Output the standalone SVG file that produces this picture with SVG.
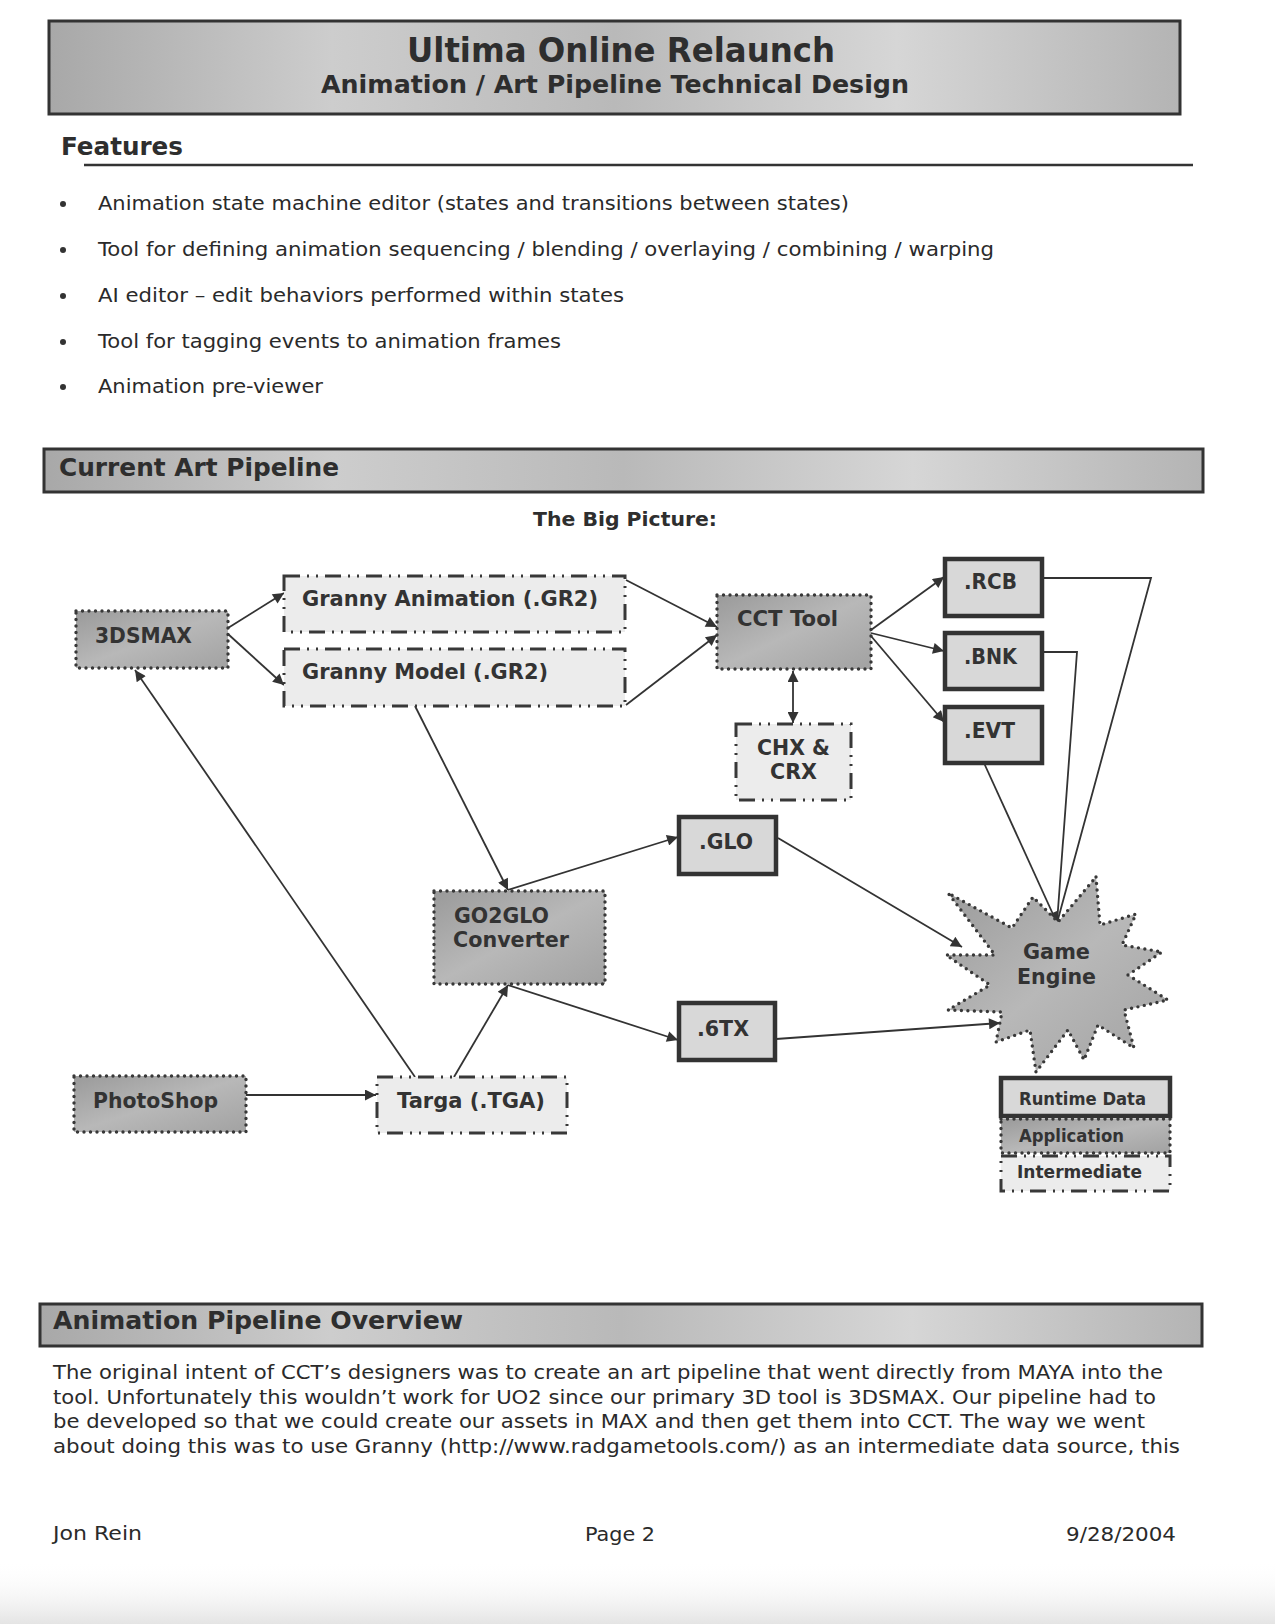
<svg xmlns="http://www.w3.org/2000/svg" width="1275" height="1624" viewBox="0 0 1275 1624">
<defs>
  <linearGradient id="band" x1="0" y1="0" x2="1" y2="0">
    <stop offset="0" stop-color="#a8a8a8"/>
    <stop offset="0.25" stop-color="#cdcdcd"/>
    <stop offset="0.5" stop-color="#b9b9b9"/>
    <stop offset="0.75" stop-color="#d6d6d6"/>
    <stop offset="1" stop-color="#b4b4b4"/>
  </linearGradient>
  <linearGradient id="dark" x1="0" y1="0" x2="1" y2="1">
    <stop offset="0" stop-color="#9a9a9a"/>
    <stop offset="0.5" stop-color="#b8b8b8"/>
    <stop offset="1" stop-color="#a2a2a2"/>
  </linearGradient>
  <linearGradient id="bottomscan" x1="0" y1="0" x2="0" y2="1">
    <stop offset="0" stop-color="#ffffff" stop-opacity="0"/>
    <stop offset="1" stop-color="#e4e4e4"/>
  </linearGradient>
  <marker id="ah" viewBox="0 0 10 10" refX="10" refY="5" markerWidth="15" markerHeight="11" markerUnits="userSpaceOnUse" orient="auto-start-reverse">
    <path d="M0,0 L10,5 L0,10 z" fill="#333"/>
  </marker>
  <style>
    .hd { font-family: "DejaVu Sans", Verdana, sans-serif; font-weight: bold; fill: #2e2e2e; }
    .body { font-family: "DejaVu Sans", Verdana, sans-serif; font-size: 19px; fill: #2a2a2a; }
    .lbl { font-family: "DejaVu Sans", Verdana, sans-serif; font-weight: bold; font-size: 21px; fill: #333; }
    .small { font-size: 17px; }
    .band { fill: url(#band); stroke: #333; stroke-width: 3; }
    .dot { fill: url(#dark); stroke: #383838; stroke-width: 3.4; stroke-dasharray: 0 6.5; stroke-linecap: round; }
    .dd { fill: #ececec; stroke: #383838; stroke-width: 3; stroke-dasharray: 16 7 2 7 2 7; }
    .solid { fill: #d8d8d8; stroke: #333; stroke-width: 4.5; }
    .conn { stroke: #333; stroke-width: 1.8; fill: none; }
  </style>
</defs>
<rect x="0" y="0" width="1275" height="1624" fill="#ffffff"/>
<rect x="0" y="1560" width="1275" height="64" fill="url(#bottomscan)"/>

<!-- Title -->
<g id="title">
  <rect class="band" x="49" y="21" width="1131" height="93"/>
  <text class="hd" x="407" y="62" font-size="34" textLength="428" lengthAdjust="spacingAndGlyphs">Ultima Online Relaunch</text>
  <text class="hd" x="321" y="93" font-size="24" textLength="588" lengthAdjust="spacingAndGlyphs">Animation / Art Pipeline Technical Design</text>
</g>

<!-- Features -->
<g id="features">
  <text class="hd" x="61" y="155" font-size="24" textLength="122" lengthAdjust="spacingAndGlyphs">Features</text>
  <line x1="84" y1="165" x2="1193" y2="165" stroke="#333" stroke-width="2.5"/>
  <circle cx="63" cy="204" r="3" fill="#333"/>
  <text class="body" x="98" y="210" textLength="751" lengthAdjust="spacingAndGlyphs">Animation state machine editor (states and transitions between states)</text>
  <circle cx="63" cy="250" r="3" fill="#333"/>
  <text class="body" x="98" y="256" textLength="896" lengthAdjust="spacingAndGlyphs">Tool for defining animation sequencing / blending / overlaying / combining / warping</text>
  <circle cx="63" cy="296" r="3" fill="#333"/>
  <text class="body" x="98" y="302" textLength="526" lengthAdjust="spacingAndGlyphs">AI editor – edit behaviors performed within states</text>
  <circle cx="63" cy="342" r="3" fill="#333"/>
  <text class="body" x="98" y="348" textLength="463" lengthAdjust="spacingAndGlyphs">Tool for tagging events to animation frames</text>
  <circle cx="63" cy="387" r="3" fill="#333"/>
  <text class="body" x="98" y="393" textLength="225" lengthAdjust="spacingAndGlyphs">Animation pre-viewer</text>
</g>

<!-- Current Art Pipeline banner -->
<g id="banner-current">
  <rect class="band" x="44" y="449" width="1159" height="43"/>
  <text class="hd" x="59" y="476" font-size="24" textLength="280" lengthAdjust="spacingAndGlyphs">Current Art Pipeline</text>
</g>
<text class="hd" x="533" y="526" font-size="19" textLength="184" lengthAdjust="spacingAndGlyphs">The Big Picture:</text>

<!-- Connectors -->
<g id="connectors">
  <line class="conn" x1="228" y1="628" x2="284" y2="593" marker-end="url(#ah)"/>
  <line class="conn" x1="228" y1="634" x2="284" y2="685" marker-end="url(#ah)"/>
  <line class="conn" x1="626" y1="580" x2="717" y2="627" marker-end="url(#ah)"/>
  <line class="conn" x1="626" y1="705" x2="717" y2="635" marker-end="url(#ah)"/>
  <line class="conn" x1="871" y1="630" x2="944" y2="577" marker-end="url(#ah)"/>
  <line class="conn" x1="871" y1="633" x2="944" y2="651" marker-end="url(#ah)"/>
  <line class="conn" x1="871" y1="636" x2="944" y2="722" marker-end="url(#ah)"/>
  <line class="conn" x1="793" y1="671" x2="793" y2="723" marker-start="url(#ah)" marker-end="url(#ah)"/>
  <line class="conn" x1="415" y1="706" x2="508" y2="890" marker-end="url(#ah)"/>
  <line class="conn" x1="508" y1="890" x2="678" y2="837" marker-end="url(#ah)"/>
  <line class="conn" x1="508" y1="985" x2="678" y2="1040" marker-end="url(#ah)"/>
  <line class="conn" x1="454" y1="1077" x2="508" y2="985" marker-end="url(#ah)"/>
  <line class="conn" x1="415" y1="1077" x2="135" y2="670" marker-end="url(#ah)"/>
  <line class="conn" x1="246" y1="1095" x2="376" y2="1095" marker-end="url(#ah)"/>
  <line class="conn" x1="778" y1="838" x2="962" y2="947" marker-end="url(#ah)"/>
  <line class="conn" x1="776" y1="1039" x2="1000" y2="1023" marker-end="url(#ah)"/>
  <polyline class="conn" points="1043,578 1151,578 1057,923"/>
  <polyline class="conn" points="1043,652 1077,652 1057,923"/>
  <line class="conn" x1="984" y1="763" x2="1057" y2="923" marker-end="url(#ah)"/>
</g>

<!-- Nodes -->
<g id="n-3dsmax">
  <rect class="dot" x="76" y="611" width="152" height="57"/>
  <text class="lbl" x="95" y="643" textLength="97" lengthAdjust="spacingAndGlyphs">3DSMAX</text>
</g>
<g id="n-granny-anim">
  <rect class="dd" x="284" y="576" width="341" height="56"/>
  <text class="lbl" x="302" y="606" textLength="296" lengthAdjust="spacingAndGlyphs">Granny Animation (.GR2)</text>
</g>
<g id="n-granny-model">
  <rect class="dd" x="284" y="649" width="341" height="57"/>
  <text class="lbl" x="302" y="679" textLength="246" lengthAdjust="spacingAndGlyphs">Granny Model (.GR2)</text>
</g>
<g id="n-cct">
  <rect class="dot" x="717" y="595" width="154" height="74"/>
  <text class="lbl" x="737" y="626" textLength="101" lengthAdjust="spacingAndGlyphs">CCT Tool</text>
</g>
<g id="n-chx">
  <rect class="dd" x="736" y="724" width="115" height="76"/>
  <text class="lbl" x="757" y="755" textLength="73" lengthAdjust="spacingAndGlyphs">CHX &amp;</text>
  <text class="lbl" x="770" y="779" textLength="47" lengthAdjust="spacingAndGlyphs">CRX</text>
</g>
<g id="n-rcb">
  <rect class="solid" x="945" y="559" width="97" height="57"/>
  <text class="lbl" x="964" y="589" textLength="53" lengthAdjust="spacingAndGlyphs">.RCB</text>
</g>
<g id="n-bnk">
  <rect class="solid" x="945" y="633" width="97" height="56"/>
  <text class="lbl" x="964" y="664" textLength="53" lengthAdjust="spacingAndGlyphs">.BNK</text>
</g>
<g id="n-evt">
  <rect class="solid" x="945" y="707" width="97" height="56"/>
  <text class="lbl" x="964" y="738" textLength="51" lengthAdjust="spacingAndGlyphs">.EVT</text>
</g>
<g id="n-go2glo">
  <rect class="dot" x="434" y="891" width="171" height="93"/>
  <text class="lbl" x="454" y="923" textLength="95" lengthAdjust="spacingAndGlyphs">GO2GLO</text>
  <text class="lbl" x="453" y="947" textLength="116" lengthAdjust="spacingAndGlyphs">Converter</text>
</g>
<g id="n-glo">
  <rect class="solid" x="679" y="817" width="97" height="57"/>
  <text class="lbl" x="699" y="849" textLength="54" lengthAdjust="spacingAndGlyphs">.GLO</text>
</g>
<g id="n-6tx">
  <rect class="solid" x="679" y="1003" width="96" height="57"/>
  <text class="lbl" x="697" y="1036" textLength="52" lengthAdjust="spacingAndGlyphs">.6TX</text>
</g>
<g id="n-photoshop">
  <rect class="dot" x="74" y="1076" width="172" height="56"/>
  <text class="lbl" x="93" y="1108" textLength="125" lengthAdjust="spacingAndGlyphs">PhotoShop</text>
</g>
<g id="n-targa">
  <rect class="dd" x="377" y="1077" width="190" height="56"/>
  <text class="lbl" x="397" y="1108" textLength="148" lengthAdjust="spacingAndGlyphs">Targa (.TGA)</text>
</g>
<g id="n-engine">
  <polygon class="dot" points="1096,877 1100,925 1136,914 1122,945 1162,952 1128,975 1168,1000 1124,1010 1134,1048 1098,1025 1084,1060 1068,1030 1036,1072 1030,1030 996,1042 1002,1012 948,1010 990,985 946,955 995,955 948,893 1012,928 1033,897 1058,922"/>
  <text class="lbl" x="1023" y="959" textLength="67" lengthAdjust="spacingAndGlyphs">Game</text>
  <text class="lbl" x="1017" y="984" textLength="79" lengthAdjust="spacingAndGlyphs">Engine</text>
</g>

<!-- Legend -->
<g id="legend-runtime">
  <rect class="solid" x="1001" y="1078" width="169" height="38"/>
  <text class="lbl small" x="1019" y="1105" textLength="127" lengthAdjust="spacingAndGlyphs">Runtime Data</text>
</g>
<g id="legend-application">
  <rect class="dot" x="1001" y="1119" width="169" height="34"/>
  <text class="lbl small" x="1019" y="1142" textLength="105" lengthAdjust="spacingAndGlyphs">Application</text>
</g>
<g id="legend-intermediate">
  <rect class="dd" x="1001" y="1156" width="169" height="35"/>
  <text class="lbl small" x="1017" y="1178" textLength="125" lengthAdjust="spacingAndGlyphs">Intermediate</text>
</g>

<!-- Animation Pipeline Overview -->
<g id="banner-overview">
  <rect class="band" x="40" y="1304" width="1162" height="42"/>
  <text class="hd" x="53" y="1329" font-size="24" textLength="410" lengthAdjust="spacingAndGlyphs">Animation Pipeline Overview</text>
</g>
<g id="paragraph">
  <text class="body" x="53" y="1379" textLength="1110" lengthAdjust="spacingAndGlyphs">The original intent of CCT’s designers was to create an art pipeline that went directly from MAYA into the</text>
  <text class="body" x="53" y="1404" textLength="1103" lengthAdjust="spacingAndGlyphs">tool. Unfortunately this wouldn’t work for UO2 since our primary 3D tool is 3DSMAX. Our pipeline had to</text>
  <text class="body" x="53" y="1428" textLength="1092" lengthAdjust="spacingAndGlyphs">be developed so that we could create our assets in MAX and then get them into CCT. The way we went</text>
  <text class="body" x="53" y="1453" textLength="1127" lengthAdjust="spacingAndGlyphs">about doing this was to use Granny (http://www.radgametools.com/) as an intermediate data source, this</text>
</g>

<!-- Footer -->
<g id="footer">
  <text class="body" x="53" y="1540" textLength="89" lengthAdjust="spacingAndGlyphs">Jon Rein</text>
  <text class="body" x="585" y="1541" textLength="70" lengthAdjust="spacingAndGlyphs">Page 2</text>
  <text class="body" x="1066" y="1541" textLength="110" lengthAdjust="spacingAndGlyphs">9/28/2004</text>
</g>
</svg>
